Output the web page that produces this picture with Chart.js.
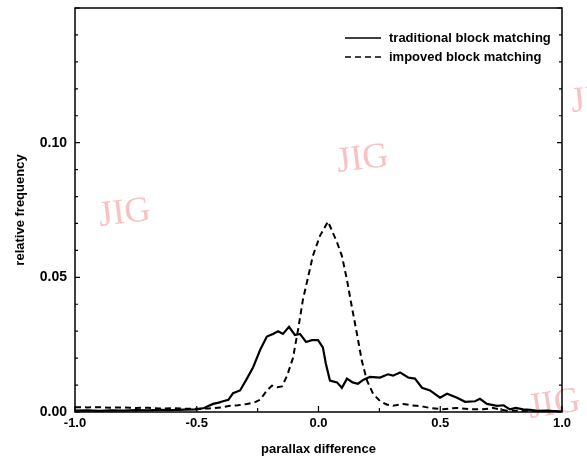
<!DOCTYPE html>
<html>
<head>
<meta charset="utf-8">
<script src="https://cdn.jsdelivr.net/npm/chart.js@4.4.1/dist/chart.umd.min.js"></script>
<style>
  html, body { margin: 0; padding: 0; background: #fff; }
  #wrap { width: 587px; height: 457px; position: relative; }
</style>
</head>
<body>
<div id="wrap"><canvas id="grafica"></canvas></div>
<script>
'use strict'

// traditional block matching (solid)
var xTrad = [-1.0, -0.95, -0.9, -0.85, -0.8, -0.75, -0.7, -0.65, -0.6, -0.55, -0.5, -0.47, -0.433, -0.41, -0.392, -0.37, -0.351, -0.322, -0.294, -0.269, -0.24, -0.212, -0.187, -0.166, -0.146, -0.121, -0.097, -0.076, -0.051, -0.027, -0.002, 0.018, 0.03, 0.047, 0.076, 0.096, 0.117, 0.14, 0.162, 0.185, 0.211, 0.253, 0.285, 0.306, 0.335, 0.368, 0.396, 0.425, 0.458, 0.499, 0.528, 0.569, 0.602, 0.643, 0.663, 0.692, 0.733, 0.76, 0.786, 0.81, 0.84, 0.87, 0.897, 0.94, 0.98, 1.0];
var yTrad = [0.0005, 0.0006, 0.0004, 0.0006, 0.0005, 0.0007, 0.0006, 0.0008, 0.0007, 0.0009, 0.001, 0.0015, 0.003, 0.0035, 0.004, 0.0045, 0.007, 0.008, 0.0124, 0.0165, 0.023, 0.028, 0.029, 0.030, 0.029, 0.0316, 0.0286, 0.029, 0.026, 0.0267, 0.0267, 0.024, 0.018, 0.0117, 0.011, 0.009, 0.0124, 0.011, 0.0105, 0.012, 0.013, 0.0128, 0.014, 0.0135, 0.0147, 0.0128, 0.0124, 0.009, 0.008, 0.0053, 0.0068, 0.0053, 0.0038, 0.004, 0.0049, 0.003, 0.0023, 0.0025, 0.001, 0.0015, 0.001, 0.0008, 0.0004, 0.0005, 0.0002, 0.0002];

// impoved block matching (dashed)
var xImp = [-1.0, -0.95, -0.9, -0.85, -0.8, -0.75, -0.7, -0.65, -0.6, -0.55, -0.5, -0.45, -0.4, -0.363, -0.33, -0.294, -0.265, -0.24, -0.212, -0.191, -0.17, -0.15, -0.129, -0.105, -0.084, -0.064, -0.043, -0.023, 0.006, 0.039, 0.076, 0.096, 0.117, 0.137, 0.158, 0.178, 0.199, 0.224, 0.253, 0.28, 0.306, 0.347, 0.38, 0.404, 0.43, 0.458, 0.511, 0.54, 0.569, 0.622, 0.676, 0.717, 0.774, 0.84, 0.9, 0.95, 1.0];
var yImp = [0.0018, 0.0017, 0.0018, 0.0016, 0.0017, 0.0015, 0.0016, 0.0013, 0.0014, 0.0012, 0.0012, 0.0013, 0.0017, 0.0023, 0.0025, 0.003, 0.0035, 0.0045, 0.008, 0.0098, 0.0092, 0.0095, 0.0135, 0.020, 0.0305, 0.0417, 0.050, 0.058, 0.0654, 0.0707, 0.063, 0.058, 0.049, 0.039, 0.029, 0.019, 0.0117, 0.0068, 0.004, 0.0028, 0.0023, 0.003, 0.0025, 0.0023, 0.002, 0.0015, 0.001, 0.0013, 0.0015, 0.001, 0.001, 0.0015, 0.0005, 0.0005, 0.0004, 0.0004, 0.0003];

var etiquetas = ['traditional block matching', 'impoved block matching'];
var tituloX = 'parallax difference';
var tituloY = 'relative frequency';

function puntos(xs, ys){
  return xs.map(function(x, i){ return {x: x, y: ys[i]} });
}

var fuente = '"Liberation Sans", Arial, Helvetica, sans-serif';

// frame, inward ticks, legend and watermark
var extras = {
  id: 'extras',
  beforeDatasetsDraw: function(chart){
    var ctx = chart.ctx;
    ctx.save();
    ctx.fillStyle = 'rgba(240,120,120,0.45)';
    ctx.font = '36px "Liberation Serif", "DejaVu Serif", serif';
    [[100, 226, -0.12], [338, 172, -0.12], [530, 418, -0.15], [572, 112, -0.1]].forEach(function(w){
      ctx.save();
      ctx.translate(w[0], w[1]);
      ctx.rotate(w[2]);
      ctx.fillText('JIG', 0, 0);
      ctx.restore();
    });
    ctx.restore();
  },
  afterDraw: function(chart){
    var ctx = chart.ctx, a = chart.chartArea;
    var sx = chart.scales.x, sy = chart.scales.y;
    ctx.save();
    ctx.strokeStyle = '#000';
    ctx.lineWidth = 1.5;
    ctx.strokeRect(a.left, a.top, a.right - a.left, a.bottom - a.top);
    ctx.lineWidth = 1.2;
    ctx.beginPath();
    sx.ticks.forEach(function(t){
      var px = sx.getPixelForValue(t.value);
      var len = (Math.abs(t.value * 2 - Math.round(t.value * 2)) < 1e-6) ? 6 : 4;
      ctx.moveTo(px, a.bottom); ctx.lineTo(px, a.bottom - len);
    });
    sy.ticks.forEach(function(t){
      var py = sy.getPixelForValue(t.value);
      var len = (Math.abs(t.value / 0.05 - Math.round(t.value / 0.05)) < 1e-6) ? 5 : 3;
      ctx.moveTo(a.left, py); ctx.lineTo(a.left + len, py);
      ctx.moveTo(a.right, py); ctx.lineTo(a.right - len, py);
    });
    ctx.stroke();

    // legend
    ctx.font = 'bold 13px ' + fuente;
    ctx.fillStyle = '#000';
    ctx.textBaseline = 'middle';
    chart.data.datasets.forEach(function(ds, i){
      var y = 38 + i * 19;
      ctx.beginPath();
      ctx.lineWidth = 1.6;
      ctx.setLineDash(ds.borderDash || []);
      ctx.moveTo(345, y); ctx.lineTo(381, y);
      ctx.stroke();
      ctx.setLineDash([]);
      ctx.fillText(ds.label, 389, y);
    });
    ctx.restore();
  }
};

var chart3 = new Chart(document.getElementById('grafica'), {
  type: 'line',
  data: {
    datasets: [{
      label: etiquetas[0],
      data: puntos(xTrad, yTrad),
      borderColor: '#000',
      borderWidth: 2.2,
      pointRadius: 0,
      tension: 0,
      fill: false
    }, {
      label: etiquetas[1],
      data: puntos(xImp, yImp),
      borderColor: '#000',
      borderWidth: 2,
      borderDash: [6, 4],
      pointRadius: 0,
      tension: 0,
      fill: false
    }]
  },
  options: {
    responsive: true,
    maintainAspectRatio: false,
    animation: false,
    layout: { padding: { top: 8, right: 25, left: 0, bottom: 0 } },
    plugins: {
      legend: { display: false },
      tooltip: { enabled: false }
    },
    scales: {
      x: {
        type: 'linear',
        min: -1, max: 1,
        afterFit: function(s){ s.height = 45; s.paddingLeft = 0; s.paddingRight = 0 },
        grid: { display: false, drawTicks: false },
        border: { display: false },
        ticks: {
          stepSize: 0.25,
          padding: 4,
          autoSkip: false,
          maxRotation: 0,
          color: '#000',
          font: { family: fuente, size: 13, weight: 'bold' },
          callback: function(v){
            if (Math.abs(v * 2 - Math.round(v * 2)) > 1e-6) return '';
            return v.toFixed(1);
          }
        },
        title: {
          display: true,
          text: tituloX,
          color: '#000',
          padding: { top: 4, bottom: 0 },
          font: { family: fuente, size: 13, weight: 'bold' }
        }
      },
      y: {
        min: 0, max: 0.15,
        afterFit: function(s){ s.width = 75; s.paddingTop = 0; s.paddingBottom = 0 },
        grid: { display: false, drawTicks: false },
        border: { display: false },
        ticks: {
          stepSize: 0.01,
          padding: 8,
          autoSkip: false,
          color: '#000',
          font: { family: fuente, size: 14, weight: 'bold' },
          callback: function(v){
            if (Math.abs(v / 0.05 - Math.round(v / 0.05)) > 1e-6 || v > 0.14) return '';
            return v.toFixed(2);
          }
        },
        title: {
          display: true,
          text: tituloY,
          color: '#000',
          padding: { top: 13, bottom: 0 },
          font: { family: fuente, size: 13, weight: 'bold' }
        }
      }
    }
  },
  plugins: [extras]
});
</script>
</body>
</html>
